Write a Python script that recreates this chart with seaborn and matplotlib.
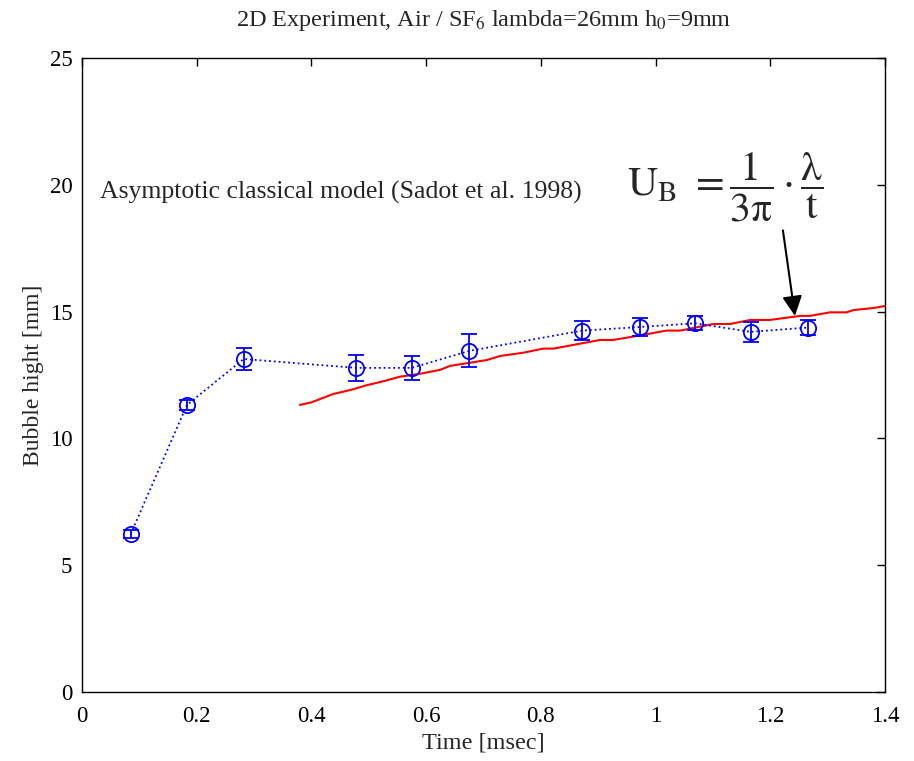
import numpy as np
import pandas as pd
import matplotlib
matplotlib.use("Agg")
import matplotlib.pyplot as plt
import seaborn as sns

# Experimental data
exp_time = [0.085, 0.183, 0.282, 0.478, 0.575, 0.675, 0.872, 0.972, 1.069, 1.166, 1.265]
exp_height = [6.23, 11.32, 13.13, 12.78, 12.78, 13.45, 14.25, 14.39, 14.54, 14.20, 14.37]
exp_err = [0.15, 0.20, 0.42, 0.52, 0.48, 0.65, 0.39, 0.36, 0.28, 0.39, 0.28]

# Model curve
model_time = [0.380, 0.400, 0.438, 0.470, 0.497, 0.525, 0.554, 0.590, 0.624, 0.642, 0.706, 0.729,
              0.770, 0.804, 0.822, 0.860, 0.903, 0.926, 0.970, 1.019, 1.043, 1.101, 1.130,
              1.165, 1.199, 1.252, 1.269, 1.304, 1.333, 1.345, 1.380, 1.400]
model_height = [11.32, 11.42, 11.75, 11.92, 12.10, 12.25, 12.43, 12.55, 12.70, 12.86, 13.09, 13.25,
                13.38, 13.54, 13.54, 13.70, 13.88, 13.88, 14.05, 14.25, 14.25, 14.51, 14.51,
                14.67, 14.67, 14.83, 14.83, 14.97, 14.97, 15.06, 15.14, 15.22]

x_ticks = [0, 0.2, 0.4, 0.6, 0.8, 1.0, 1.2, 1.4]
x_tick_labels = ["0", "0.2", "0.4", "0.6", "0.8", "1", "1.2", "1.4"]
y_ticks = [0, 5, 10, 15, 20, 25]

sns.set_theme(style="white")
plt.rcParams['font.family'] = ['Liberation Serif', 'DejaVu Serif']
plt.rcParams['mathtext.fontset'] = 'stix'

fig = plt.figure(figsize=(9.14, 7.61), dpi=100)
ax = fig.add_axes([0.0897, 0.0907, 0.9683 - 0.0897, 0.9238 - 0.0907])

df_exp = pd.DataFrame({"t": exp_time, "h": exp_height, "e": exp_err})
df_mod = pd.DataFrame({"t": model_time, "h": model_height})

sns.lineplot(data=df_mod, x="t", y="h", ax=ax, color="#ff0000", linewidth=1.5)
ax.errorbar(df_exp["t"], df_exp["h"], yerr=df_exp["e"], fmt="none", ecolor="#0000ff",
            elinewidth=1.3, capsize=6, capthick=1.3)
sns.lineplot(data=df_exp, x="t", y="h", ax=ax, color="#0000ff", linestyle=":",
             linewidth=1.3, marker="o", markersize=11, markerfacecolor="none",
             markeredgecolor="#0000ff", markeredgewidth=1.3)

ax.set_xlim(0, 1.4)
ax.set_ylim(0, 25)
ax.set_xticks(x_ticks)
ax.set_xticklabels(x_tick_labels)
ax.set_yticks(y_ticks)
ax.tick_params(direction="in", length=6, width=1, top=True, right=True,
               labelsize=16.5, colors="black")
ax.tick_params(axis="x", pad=10)
ax.tick_params(axis="y", pad=7)
for s in ax.spines.values():
    s.set_color("black")
    s.set_linewidth(1.0)

ax.set_xlabel("Time [msec]", fontsize=17.5, labelpad=4)
ax.set_ylabel("Bubble hight [mm]", fontsize=17, labelpad=4)
ax.set_title("2D Experiment, Air / SF$_6$ lambda=26mm h$_0$=9mm", fontsize=17.5, pad=23)

ax.text(0.032, 19.7, "Asymptotic classical model (Sadot et al. 1998)", fontsize=18.5,
        ha="left", va="center")
ax.text(0.950, 19.9,
        r"$\mathrm{U}_{\mathrm{B}}\ =\dfrac{1}{3\mathrm{\pi}}\cdot\dfrac{\mathrm{\lambda}}{\mathrm{t}}$",
        fontsize=30, ha="left", va="center")

ax.annotate("", xy=(1.243, 14.83), xytext=(1.222, 18.2),
            arrowprops=dict(arrowstyle="-|>", color="black", lw=1.5,
                            mutation_scale=30, shrinkA=0, shrinkB=0))

fig.savefig("out.png", dpi=100)
